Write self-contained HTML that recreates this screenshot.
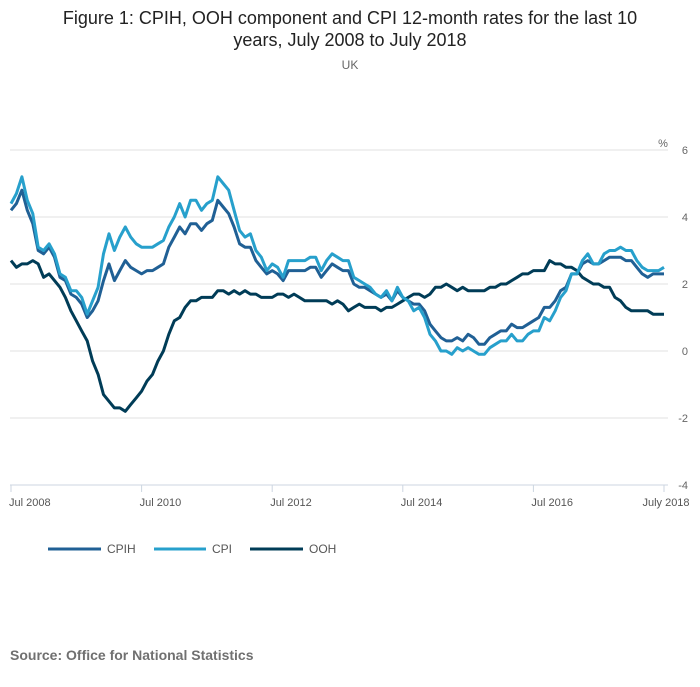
<!DOCTYPE html>
<html><head><meta charset="utf-8"><style>
body{margin:0;background:#fff;font-family:"Liberation Sans",sans-serif;}
svg text{font-family:"Liberation Sans",sans-serif;}
</style></head><body>
<svg width="700" height="682" viewBox="0 0 700 682">
<text x="350" y="24" text-anchor="middle" font-size="18" fill="#222">Figure 1: CPIH, OOH component and CPI 12-month rates for the last 10</text>
<text x="350" y="46" text-anchor="middle" font-size="18" fill="#222">years, July 2008 to July 2018</text>
<text x="350" y="69" text-anchor="middle" font-size="12" fill="#666">UK</text>
<text x="663" y="147" text-anchor="middle" font-size="11" fill="#666">%</text>
<g id="grid"></g><g id="series"></g><g id="xaxis"></g>
<g>
<g><line x1="48" y1="549" x2="101" y2="549" stroke="#206095" stroke-width="3"/><text x="107" y="553" font-size="12" fill="#555">CPIH</text></g>
<g><line x1="154" y1="549" x2="206" y2="549" stroke="#27a0cc" stroke-width="3"/><text x="212" y="553" font-size="12" fill="#555">CPI</text></g>
<g><line x1="250" y1="549" x2="303" y2="549" stroke="#003c57" stroke-width="3"/><text x="309" y="553" font-size="12" fill="#555">OOH</text></g>
</g>
<text x="10" y="660" font-size="14" font-weight="bold" fill="#707070">Source: Office for National Statistics</text>
</svg>
<script>
const yTicks=[6,4,2,0,-2,-4];
const xTickLabels=["Jul 2008","Jul 2010","Jul 2012","Jul 2014","Jul 2016","July 2018"];
const xTickIndex=[0,24,48,72,96,120];
const cpi=[4.4,4.7,5.2,4.5,4.1,3.1,
3.0,3.2,2.9,2.3,2.2,1.8,1.8,1.6,1.1,1.5,1.9,2.9,
3.5,3.0,3.4,3.7,3.4,3.2,3.1,3.1,3.1,3.2,3.3,3.7,
4.0,4.4,4.0,4.5,4.5,4.2,4.4,4.5,5.2,5.0,4.8,4.2,
3.6,3.4,3.5,3.0,2.8,2.4,2.6,2.5,2.2,2.7,2.7,2.7,
2.7,2.8,2.8,2.4,2.7,2.9,2.8,2.7,2.7,2.2,2.1,2.0,
1.9,1.7,1.6,1.8,1.5,1.9,1.6,1.5,1.2,1.3,1.0,0.5,
0.3,0.0,0.0,-0.1,0.1,0.0,0.1,0.0,-0.1,-0.1,0.1,0.2,
0.3,0.3,0.5,0.3,0.3,0.5,0.6,0.6,1.0,0.9,1.2,1.6,
1.8,2.3,2.3,2.7,2.9,2.6,2.6,2.9,3.0,3.0,3.1,3.0,
3.0,2.7,2.5,2.4,2.4,2.4,2.5];
const cpih=[4.2,4.4,4.8,4.2,3.8,3.0,
2.9,3.1,2.8,2.2,2.1,1.7,1.6,1.4,1.0,1.2,1.5,2.1,
2.6,2.1,2.4,2.7,2.5,2.4,2.3,2.4,2.4,2.5,2.6,3.1,
3.4,3.7,3.5,3.8,3.8,3.6,3.8,3.9,4.5,4.3,4.1,3.7,
3.2,3.1,3.1,2.7,2.5,2.3,2.4,2.3,2.1,2.4,2.4,2.4,
2.4,2.5,2.5,2.2,2.4,2.6,2.5,2.4,2.4,2.0,1.9,1.9,
1.8,1.7,1.6,1.7,1.5,1.8,1.6,1.5,1.4,1.4,1.2,0.8,
0.6,0.4,0.3,0.3,0.4,0.3,0.5,0.4,0.2,0.2,0.4,0.5,
0.6,0.6,0.8,0.7,0.7,0.8,0.9,1.0,1.3,1.3,1.5,1.8,
1.9,2.3,2.3,2.6,2.7,2.6,2.6,2.7,2.8,2.8,2.8,2.7,
2.7,2.5,2.3,2.2,2.3,2.3,2.3];
const ooh=[2.7,2.5,2.6,2.6,2.7,2.6,
2.2,2.3,2.1,1.9,1.6,1.2,0.9,0.6,0.3,-0.3,-0.7,-1.3,
-1.5,-1.7,-1.7,-1.8,-1.6,-1.4,-1.2,-0.9,-0.7,-0.3,0.0,0.5,
0.9,1.0,1.3,1.5,1.5,1.6,1.6,1.6,1.8,1.8,1.7,1.8,
1.7,1.8,1.7,1.7,1.6,1.6,1.6,1.7,1.7,1.6,1.7,1.6,
1.5,1.5,1.5,1.5,1.5,1.4,1.5,1.4,1.2,1.3,1.4,1.3,
1.3,1.3,1.2,1.3,1.3,1.4,1.5,1.6,1.7,1.7,1.6,1.7,
1.9,1.9,2.0,1.9,1.8,1.9,1.8,1.8,1.8,1.8,1.9,1.9,
2.0,2.0,2.1,2.2,2.3,2.3,2.4,2.4,2.4,2.7,2.6,2.6,
2.5,2.5,2.4,2.2,2.1,2.0,2.0,1.9,1.9,1.6,1.5,1.3,
1.2,1.2,1.2,1.2,1.1,1.1,1.1];
const NS="http://www.w3.org/2000/svg";
const X0=11,X1=664,Y6=150,Y4n=485;
function xs(i){return X0+(X1-X0)*i/120;}
function ys(v){return Y6+(6-v)*(Y4n-Y6)/10;}
const grid=document.getElementById('grid');
yTicks.forEach(t=>{
 if(t!==-4){const l=document.createElementNS(NS,'line');
 l.setAttribute('x1',10);l.setAttribute('x2',668);l.setAttribute('y1',ys(t));l.setAttribute('y2',ys(t));
 l.setAttribute('stroke','#e0e0e0');l.setAttribute('stroke-width','1');
 
 
 grid.appendChild(l);}
 const tx=document.createElementNS(NS,'text');
 tx.setAttribute('x',688);tx.setAttribute('y',ys(t)+4);tx.setAttribute('text-anchor','end');
 tx.setAttribute('font-size','11');tx.setAttribute('fill','#666');tx.textContent=t;
 
 
 grid.appendChild(tx);
});
const xa=document.getElementById('xaxis');
const ax=document.createElementNS(NS,'line');
ax.setAttribute('x1',10);ax.setAttribute('x2',668);ax.setAttribute('y1',485);ax.setAttribute('y2',485);
ax.setAttribute('stroke','#ccd6e0');


xa.appendChild(ax);
xTickIndex.forEach((idx,k)=>{
 const t=document.createElementNS(NS,'line');
 t.setAttribute('x1',xs(idx));t.setAttribute('x2',xs(idx));t.setAttribute('y1',485);t.setAttribute('y2',492);
 t.setAttribute('stroke','#ccd6e0');
 
 
 xa.appendChild(t);
 const tx=document.createElementNS(NS,'text');
 tx.setAttribute('x',k===5?xs(idx)-2:xs(idx)-2);tx.setAttribute('y',506);
 tx.setAttribute('font-size','11');tx.setAttribute('fill','#555');
 tx.setAttribute('text-anchor',k===0?'start':(k===5?'middle':'start'));
 if(k===5)tx.setAttribute('x',xs(idx)+2);
 tx.textContent=xTickLabels[k];
 
 
 xa.appendChild(tx);
});
const sg=document.getElementById('series');
[[ooh,'#003c57','ooh-line'],[cpih,'#206095','cpih-line'],[cpi,'#27a0cc','cpi-line']].forEach(([d,c,n])=>{
 const p=document.createElementNS(NS,'polyline');
 p.setAttribute('points',d.map((v,i)=>xs(i).toFixed(1)+','+ys(v).toFixed(1)).join(' '));
 p.setAttribute('fill','none');p.setAttribute('stroke',c);p.setAttribute('stroke-width','3');
 p.setAttribute('stroke-linejoin','round');
 
 
 sg.appendChild(p);
});
</script>
</body></html>
